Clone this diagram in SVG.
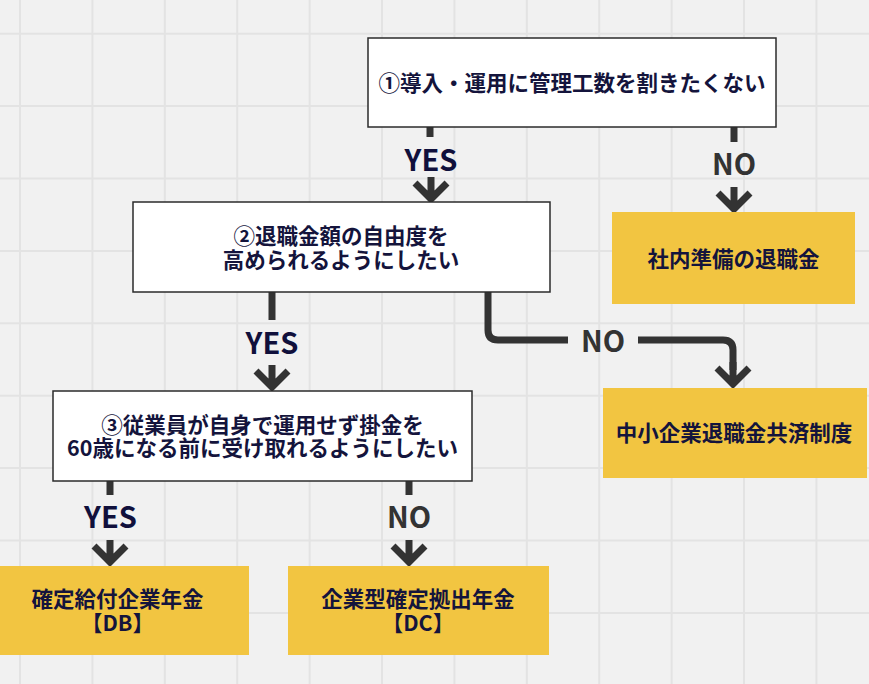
<svg xmlns="http://www.w3.org/2000/svg" width="869" height="684" viewBox="0 0 869 684">
<style>
.grid{stroke:#e3e3e3;stroke-width:2;fill:none}
.q{fill:#ffffff;stroke:#2b2b2b;stroke-width:1.5}
.a{fill:#f2c541}
.t{font-family:"Noto Sans CJK JP","Noto Sans",sans-serif;font-weight:700;font-size:21.5px;fill:#14143c;text-anchor:middle}
.c{fill:none;stroke:#333333;stroke-width:7;stroke-linejoin:miter;stroke-linecap:butt}
.yes{font-family:"Noto Sans CJK JP","Noto Sans",sans-serif;font-weight:700;font-size:29px;fill:#10103c;text-anchor:middle}
.no{font-family:"Noto Sans CJK JP","Noto Sans",sans-serif;font-weight:700;font-size:29px;fill:#333333;text-anchor:middle}
</style>
<defs>
<path id="ah" d="M-16,-21 L0,-5 L16,-21 M0,-27 V-5" class="c"/>
</defs>
<rect x="0" y="0" width="869" height="684" fill="#f1f1f1"/>
<path class="grid" d="M20,0V684M92.4,0V684M164.8,0V684M237.2,0V684M309.6,0V684M382,0V684M454.4,0V684M526.8,0V684M599.2,0V684M671.6,0V684M744,0V684M816.4,0V684M0,33.7H869M0,106.1H869M0,178.5H869M0,250.9H869M0,323.3H869M0,395.7H869M0,468.1H869M0,540.5H869M0,612.9H869"/>
<g id="connectors">
<path class="c" d="M430,127V137"/>
<use href="#ah" x="431" y="204"/>
<text class="yes" x="431" y="170.5">YES</text>
<path class="c" d="M734,127V142"/>
<use href="#ah" x="734" y="214"/>
<text class="no" x="734" y="175">NO</text>
<path class="c" d="M272,292V320"/>
<use href="#ah" x="272" y="392"/>
<text class="yes" x="272" y="354">YES</text>
<path class="c" d="M488,292V330Q488,340 498,340H568M638,340H723Q733,340 733,350V370"/>
<use href="#ah" x="733" y="389"/>
<text class="no" x="603" y="352">NO</text>
<path class="c" d="M110,481V495"/>
<use href="#ah" x="110" y="567"/>
<text class="yes" x="110.5" y="527.5">YES</text>
<path class="c" d="M409,481V495"/>
<use href="#ah" x="409" y="567"/>
<text class="no" x="409" y="527.5">NO</text>
</g>
<g id="q1">
<rect class="q" x="368" y="38" width="408" height="89"/>
<text class="t" x="572" y="90.5">①導入・運用に管理工数を割きたくない</text>
</g>
<g id="q2">
<rect class="q" x="133" y="202" width="417" height="90"/>
<text class="t" x="341" y="244">②退職金額の自由度を</text>
<text class="t" x="341" y="267.5">高められるようにしたい</text>
</g>
<g id="q3">
<rect class="q" x="53" y="391" width="419" height="90"/>
<text class="t" x="262.5" y="432.5">③従業員が自身で運用せず掛金を</text>
<text class="t" x="262.5" y="456">60歳になる前に受け取れるようにしたい</text>
</g>
<g id="a1">
<rect class="a" x="612" y="212" width="243" height="92"/>
<text class="t" x="733.5" y="267">社内準備の退職金</text>
</g>
<g id="a2">
<rect class="a" x="603" y="388" width="264" height="90"/>
<text class="t" x="734" y="441">中小企業退職金共済制度</text>
</g>
<g id="a3">
<rect class="a" x="-13" y="566" width="262" height="89"/>
<text class="t" x="117.5" y="606.5">確定給付企業年金</text>
<text class="t" x="117.5" y="631">【DB】</text>
</g>
<g id="a4">
<rect class="a" x="288" y="566" width="261" height="89"/>
<text class="t" x="418" y="606.5">企業型確定拠出年金</text>
<text class="t" x="418" y="631">【DC】</text>
</g>
</svg>
